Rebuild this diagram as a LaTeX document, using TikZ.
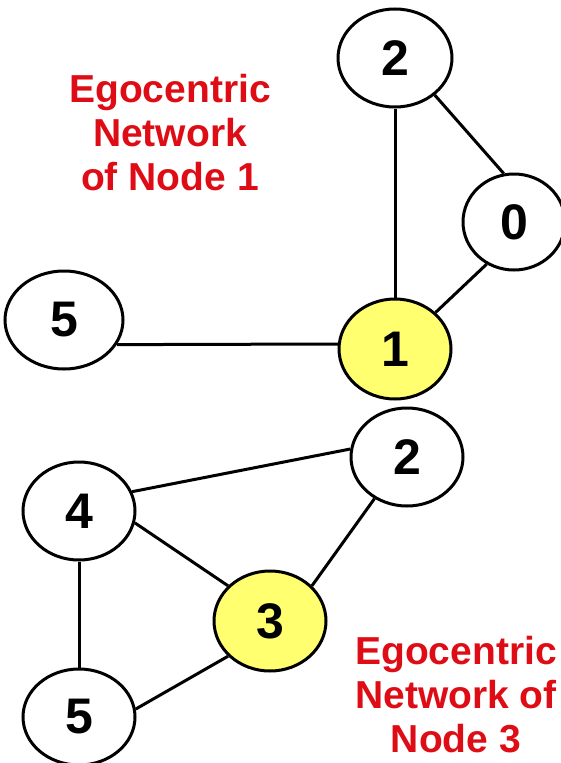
\documentclass[tikz,border=0pt]{standalone}
\usepackage{fontspec}
\setmainfont{Liberation Sans}
\usetikzlibrary{shapes.geometric}
\definecolor{egoyellow}{RGB}{255,255,112}
\definecolor{egored}{RGB}{222,12,20}

\begin{document}
\begin{tikzpicture}[x=1pt, y=-1pt,
    vertex/.style={ellipse, draw, line width=3pt, inner sep=0pt,
        minimum width=112pt, minimum height=98pt,
        font=\fontsize{50}{50}\selectfont\bfseries},
    ego/.style={vertex, fill=egoyellow},
    edge/.style={line width=3pt},
    caption/.style={text=egored, align=center,
        font=\fontsize{39}{44}\selectfont\bfseries}
]
    \useasboundingbox (0, 0) rectangle (561, 763);

    % Graph 1 nodes
    \path
    (395, 58) node[vertex, minimum width=114pt] (t2) {2}
    (514, 222) node[vertex, minimum width=102pt, minimum height=96pt] (t0) {0}
    (64, 320) node[vertex, minimum width=118pt] (t5) {5}
    (395, 349) node[ego, minimum height=100pt] (t1) {1}
    ;

    % Graph 1 edges
    \draw[edge] (t2) -- (t1);
    \draw[edge] (t2.-43) -- (t0.102);
    \draw[edge] (t1.42) -- (t0.-123);
    \draw[edge] (t5.-25) -- (t1.175);

    % Graph 2 nodes
    \path
    (407, 457) node[vertex] (b2) {2}
    (79, 511) node[vertex] (b4) {4}
    (270, 621) node[ego, minimum height=100pt] (b3) {3}
    (79, 717) node[vertex, minimum height=96pt] (b5) {5}
    ;

    % Graph 2 edges
    \draw[edge] (b4.20) -- (b2.172);
    \draw[edge] (b4.-12) -- (b3.140);
    \draw[edge] (b2.-128) -- (b3.40);
    \draw[edge] (b4) -- (b5);
    \draw[edge] (b5.8) -- (b3.220);

    % Captions
    \node[caption] (cap1) at (170, 133) {Egocentric\\Network\\of Node 1};
    \node[caption] (cap3) at (456, 695) {Egocentric\\Network of\\Node 3};

\end{tikzpicture}
\end{document}
